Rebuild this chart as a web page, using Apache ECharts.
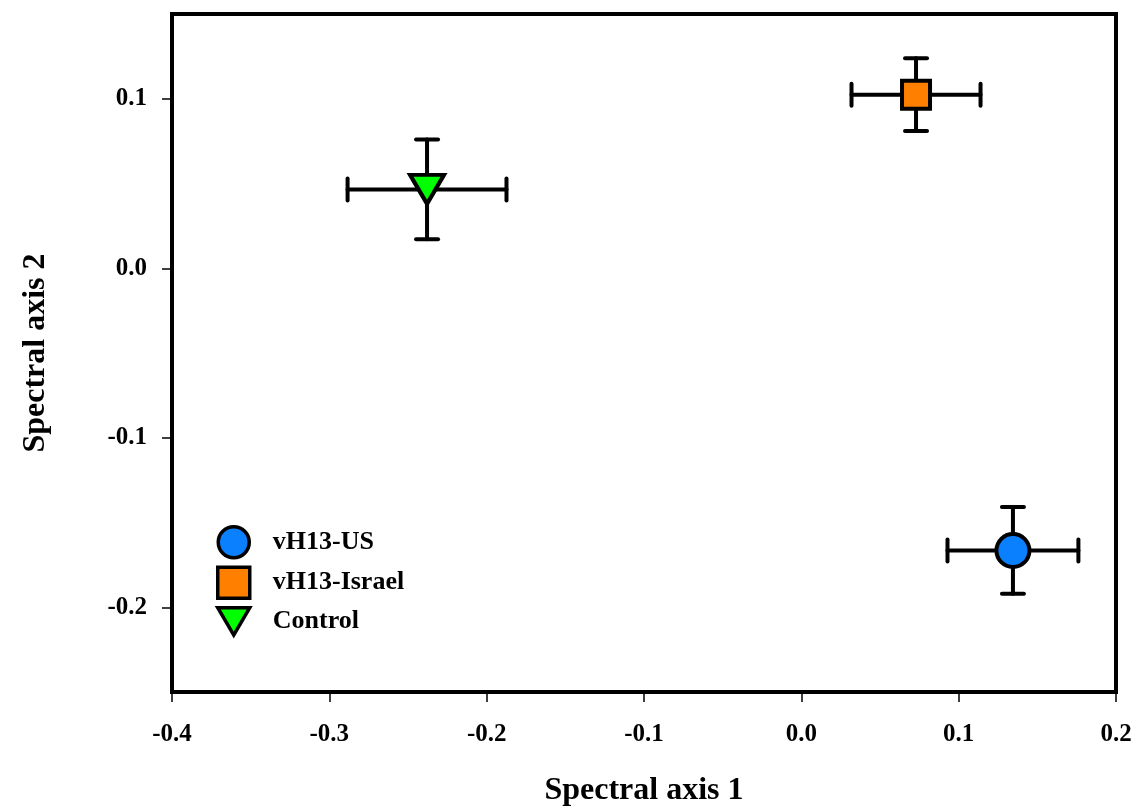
<!DOCTYPE html>
<html><head><meta charset="utf-8">
<script src="https://cdn.jsdelivr.net/npm/echarts@6/dist/echarts.min.js"></script>
<style>html,body{margin:0;padding:0;background:#fff}#c{width:1137px;height:808px}</style>
</head><body><div id="c"></div>
<script>
var seriesNames = ['vH13-US', 'vH13-Israel', 'Control'];
var xMean = [0.1345, 0.0729, -0.2379];
var yMean = [-0.1665, 0.1024, 0.0465];
var xErr = [0.0416, 0.041, 0.0505];
var yErr = [0.0256, 0.0215, 0.0294];
var colors = ['#0A80FF', '#FF8000', '#00FF00'];
var symbols = ['circle', 'rect', 'path://M0,0 L34,0 L17,29 Z'];
var symbolSizes = [33, 28, [34, 29]];
var yTicks = [-0.2, -0.1, 0.0, 0.1];

var FONT = 'Liberation Serif';
var chart = echarts.init(document.getElementById('c'));

var errData = xMean.map(function (x, i) { return [x, yMean[i], xErr[i], yErr[i]]; });

var series = [{
  type: 'custom',
  z: 1,
  data: errData,
  renderItem: function (params, api) {
    var x = api.value(0), y = api.value(1), ex = api.value(2), ey = api.value(3);
    var l = api.coord([x - ex, y]), r = api.coord([x + ex, y]);
    var t = api.coord([x, y + ey]), b = api.coord([x, y - ey]);
    var c = 11;
    var st = { stroke: '#000', lineWidth: 4, lineCap: 'round' };
    return {
      type: 'group',
      children: [
        { type: 'line', shape: { x1: l[0], y1: l[1], x2: r[0], y2: r[1] }, style: st },
        { type: 'line', shape: { x1: l[0], y1: l[1] - c, x2: l[0], y2: l[1] + c }, style: st },
        { type: 'line', shape: { x1: r[0], y1: r[1] - c, x2: r[0], y2: r[1] + c }, style: st },
        { type: 'line', shape: { x1: t[0], y1: t[1], x2: b[0], y2: b[1] }, style: st },
        { type: 'line', shape: { x1: t[0] - c, y1: t[1], x2: t[0] + c, y2: t[1] }, style: st },
        { type: 'line', shape: { x1: b[0] - c, y1: b[1], x2: b[0] + c, y2: b[1] }, style: st }
      ]
    };
  }
}];

seriesNames.forEach(function (n, i) {
  series.push({
    name: n,
    type: 'scatter',
    z: 5,
    symbol: symbols[i],
    symbolSize: symbolSizes[i],
    data: [[xMean[i], yMean[i]]],
    itemStyle: { color: colors[i], borderColor: '#000', borderWidth: 4, opacity: 1 }
  });
});

chart.setOption({
  animation: false,
  backgroundColor: '#fff',
  grid: { left: 172, right: 21, top: 14, bottom: 116, outerBoundsMode: 'none', containLabel: false, show: true, borderColor: '#000', borderWidth: 4, backgroundColor: 'transparent' },
  legend: {
    orient: 'vertical',
    left: 211,
    top: 520,
    itemWidth: 32,
    itemHeight: 31,
    itemGap: 6,
    data: seriesNames.map(function (n, i) { return { name: n, icon: symbols[i], itemStyle: { borderWidth: 3.5 } }; }),
    textStyle: { fontFamily: FONT, fontWeight: 'bold', fontSize: 26, color: '#000', padding: [0, 0, 0, 18] },
    selectedMode: false
  },
  xAxis: {
    type: 'value', min: -0.4, max: 0.2, interval: 0.1,
    name: 'Spectral axis 1', nameLocation: 'middle', nameGap: 83,
    nameTextStyle: { fontFamily: FONT, fontWeight: 'bold', fontSize: 32, color: '#000' },
    axisLine: { show: true, onZero: false, lineStyle: { color: '#000', width: 4 } },
    axisTick: { show: true, inside: false, length: 10, lineStyle: { color: '#000', width: 1.5 } },
    axisLabel: { margin: 30, fontFamily: FONT, fontWeight: 'bold', fontSize: 25, color: '#000', formatter: function (v) { return v.toFixed(1); } },
    splitLine: { show: false }
  },
  yAxis: {
    type: 'value', min: -0.25, max: 0.15, interval: 0.1,
    name: 'Spectral axis 2', nameLocation: 'middle', nameGap: 120,
    nameTextStyle: { fontFamily: FONT, fontWeight: 'bold', fontSize: 32, color: '#000' },
    axisLine: { show: true, onZero: false, lineStyle: { color: '#000', width: 4 } },
    axisLabel: { margin: 25, fontFamily: FONT, fontWeight: 'bold', fontSize: 25, color: '#000',
      customValues: yTicks,
      formatter: function (v) { return v.toFixed(1); } },
    axisTick: { show: true, inside: false, length: 10, lineStyle: { color: '#000', width: 1.5 }, customValues: yTicks },
    splitLine: { show: false }
  },
  series: series
});
</script></body></html>
